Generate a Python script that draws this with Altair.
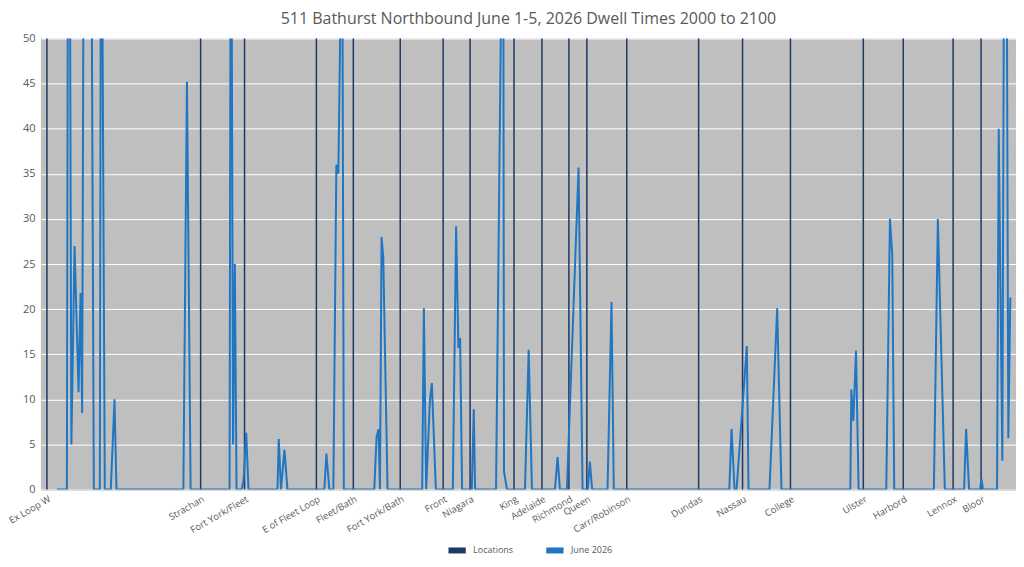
import pandas as pd
import altair as alt

# location markers (x in chart distance units)
loc_names = ["Ex Loop W", "Strachan", "Fort York/Fleet", "E of Fleet Loop", "Fleet/Bath",
             "Fort York/Bath", "Front", "Niagara", "King", "Adelaide", "Richmond", "Queen",
             "Carr/Robinson", "Dundas", "Nassau", "College", "Ulster", "Harbord", "Lennox", "Bloor"]
loc_x = [47, 201, 245, 317, 354, 401, 444, 471, 515, 543, 570, 588, 628, 700, 744, 792,
         865, 905, 955, 983]

# dwell time trace
dwell_x = [57, 67, 68, 70, 71.5, 74.7, 78.7, 80.7, 82.3, 83.7, 91.7, 94, 100, 101, 102.3, 105,
           111, 114.7, 116.7, 183.7, 187.3, 191, 230, 231, 232, 233.5, 235.3, 237, 242, 244,
           246.7, 249, 278, 279.3, 281.5, 285, 288, 325, 327, 330, 334, 337, 339, 342, 343,
           344.5, 375, 377.3, 379.3, 380.7, 382.3, 384, 388.3, 423, 424.7, 427, 430.7, 432.7,
           436.7, 453.7, 457, 459.3, 461, 463, 472.7, 474.7, 476, 497, 502.7, 504.3, 505, 508,
           526, 529.7, 533, 556, 558.7, 561, 568, 579.7, 583.7, 589, 591, 593.3, 608.7, 612.7,
           615, 730.7, 733, 736, 738, 748.3, 750, 771, 778.7, 783, 852, 853, 855, 857.7, 860.3,
           888, 891.7, 894, 896, 935.7, 939.7, 946.7, 966, 968, 971, 982, 983.3, 985, 999,
           1000.7, 1004.3, 1006, 1008.7, 1010.3, 1012.3]
dwell_y = [0, 0, 60, 60, 5, 27, 10.8, 21.8, 8.5, 60, 60, 0, 0, 60, 60, 0,
           0, 10, 0, 0, 45.2, 0, 0, 60, 60, 5, 25, 0, 0, 1,
           6.3, 0, 0, 5.6, 0, 4.4, 0, 0, 4, 0, 0, 36, 35, 60, 60,
           0, 0, 5.8, 6.7, 0, 28, 25.8, 0, 0, 20.1, 0, 9.8, 11.8,
           0, 0, 29.2, 15.7, 16.8, 0, 0, 8.9, 0, 0, 60, 60, 2, 0,
           0, 15.5, 0, 0, 3.6, 0, 0, 35.7, 0, 0, 3.1, 0, 0, 20.8,
           0, 0, 6.7, 0, 0, 15.9, 0, 0, 20.1, 0, 0, 11.1, 7.6, 15.4, 0,
           0, 30, 26, 0, 0, 30, 0, 0, 6.7, 0, 0, 1.2, 0, 0,
           40, 3.2, 60, 60, 5.7, 21.3]

locs = pd.DataFrame({"x": loc_x, "name": loc_names, "s": "Locations"})
dwell = pd.DataFrame({"x": dwell_x, "y": dwell_y, "s": "June 2026"})

label_map = "{" + ",".join(f"'{x}':'{n}'" for x, n in zip(loc_x, loc_names)) + "}"

xscale = alt.Scale(domain=[41, 1018], nice=False, zero=False)
color = alt.Color("s:N", scale=alt.Scale(domain=["Locations", "June 2026"],
                                         range=["#1f3864", "#2176c2"]),
                  legend=alt.Legend(title=None, orient="none", legendX=405, legendY=501,
                                    direction="horizontal", symbolType="stroke",
                                    symbolStrokeWidth=6, symbolSize=300, labelFontSize=9,
                                    labelColor="#595959", columnPadding=20))

rules = alt.Chart(locs).mark_rule(strokeWidth=1.5).encode(
    x=alt.X("x:Q", scale=xscale, axis=alt.Axis(
        values=loc_x, labelExpr=f"{label_map}[datum.value]", title=None, grid=False,
        ticks=False, domain=True, domainColor="#bfbfbf", labelAngle=-30, labelAlign="right",
        labelBaseline="top", labelFontSize=9.5, labelColor="#595959", labelPadding=4,
        labelOverlap=False, labelFlush=False, labelBound=False)),
    color=color,
)

line = alt.Chart(dwell).mark_line(strokeWidth=2, clip=True).encode(
    x=alt.X("x:Q", scale=xscale),
    y=alt.Y("y:Q", scale=alt.Scale(domain=[0, 50], nice=False), axis=alt.Axis(
        values=list(range(0, 51, 5)), title=None, ticks=False, domain=False,
        gridColor="#ffffff", gridWidth=1, labelFontSize=11, labelColor="#595959",
        labelPadding=6)),
    color=color,
)

chart = alt.layer(rules, line).properties(
    width=977, height=452,
    autosize=alt.AutoSizeParams(type="none"),
    padding={"left": 33, "top": 30, "right": 0, "bottom": 69},
    title=alt.Title("511 Bathurst Northbound June 1-5, 2026 Dwell Times 2000 to 2100",
                    fontSize=16, fontWeight="normal", color="#595959", offset=6,
                    font="Open Sans"),
).configure_view(fill="#bfbfbf", stroke=None).configure_axis(
    labelFont="Open Sans").configure_legend(labelFont="Open Sans")

chart.save("out.html", embed_options={"renderer": "svg", "actions": False})
